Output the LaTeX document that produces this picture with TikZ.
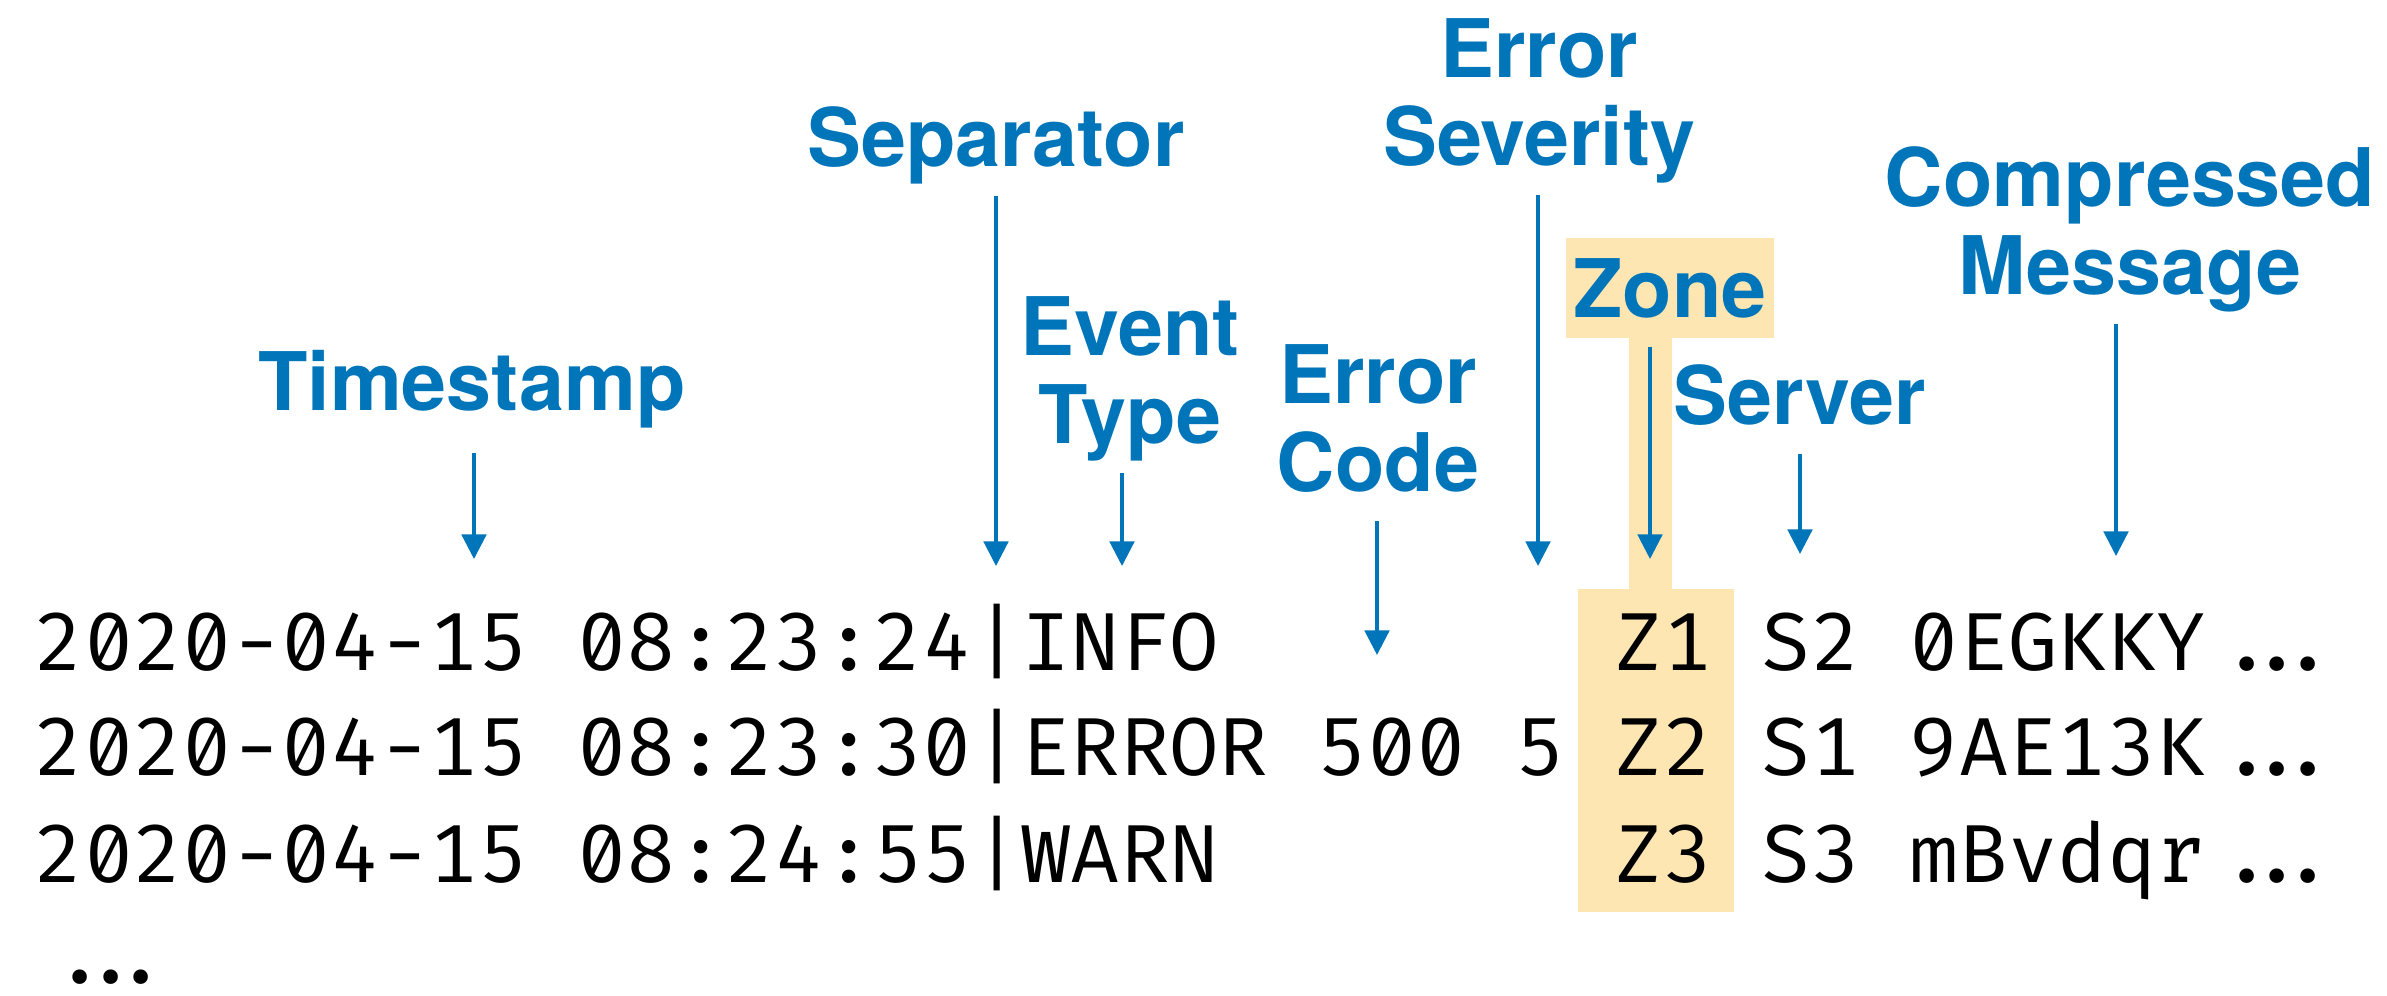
\documentclass[tikz,border=0pt]{standalone}
\usepackage{fontspec}
\setmainfont{TeX Gyre Heros}
\setmonofont{Fira Mono}[RawFeature=+zero]
\usepackage{tikz}
\usepackage{xcolor}
\usetikzlibrary{arrows.meta}
\definecolor{label-blue}{RGB}{0,117,186}
\definecolor{zone-yellow}{RGB}{253,230,178}
\newcommand{\logdots}{.\kern-0.23em.\kern-0.23em.}
\tikzset{
    field-label/.style = {text=label-blue, font=\fontsize{23}{25}\selectfont\bfseries, align=center, inner sep=0pt, text depth=0pt, anchor=south},
    field-arrow/.style = {draw=label-blue, line width=0.9pt, -{Triangle[width=7pt,length=7pt]}, shorten <=0.29cm},
    log-line/.style = {font=\fontsize{23.4}{25}\selectfont\ttfamily, inner sep=0pt, anchor=base west},
    zone-fill/.style = {fill=zone-yellow},
}

\begin{document}
\begin{tikzpicture}
\useasboundingbox (0,0) rectangle (23.87,9.95);

\fill[zone-fill] (16.29,6.57) rectangle (16.72,4.06);
\fill[zone-fill] (15.78,4.06) rectangle (17.34,0.83);

\node[field-label] (timestamp) at (4.72,5.84) {Timestamp};
\node[field-label] (separator) at (9.96,8.28) {Separator};
\node[field-label] (eventtype) at (11.30,5.51) {Event\\Type};
\node[field-label] (errorcode) at (13.78,5.03) {Error\\Code};
\node[field-label] (severity) at (15.39,8.29) {Error\\Severity};
\node[field-label, zone-fill, anchor=base, text height=0.79cm, text depth=0.21cm, inner xsep=0.077cm] (zone) at (16.70,6.78) {Zone};
\node[field-label] (server) at (18.00,5.70) {Server};
\node[field-label] (message) at (21.30,7.00) {Compressed\\Message};

\coordinate (timestamp-tip) at (4.74,4.36);
\coordinate (separator-tip) at (9.96,4.29);
\coordinate (eventtype-tip) at (11.22,4.29);
\coordinate (errorcode-tip) at (13.77,3.40);
\coordinate (severity-tip) at (15.38,4.29);
\coordinate (zone-tip) at (16.50,4.36);
\coordinate (server-tip) at (18.00,4.41);
\coordinate (message-tip) at (21.16,4.39);

\draw[field-arrow, shorten <=0.42cm] (timestamp.south -| timestamp-tip) -- (timestamp-tip);
\draw[field-arrow] (separator.south -| separator-tip) -- (separator-tip);
\draw[field-arrow] (eventtype.south -| eventtype-tip) -- (eventtype-tip);
\draw[field-arrow] (errorcode.south -| errorcode-tip) -- (errorcode-tip);
\draw[field-arrow] (severity.south -| severity-tip) -- (severity-tip);
\draw[field-arrow, shorten <=0.08cm] (zone.south -| zone-tip) -- (zone-tip);
\draw[field-arrow] (server.south -| server-tip) -- (server-tip);
\draw[field-arrow] (message.south -| message-tip) -- (message-tip);

\node[log-line] (row1) at (0.34,3.25) {2020-04-15 08:23:24|INFO~~~~~~~~Z1 S2 0EGKKY\kern0.2em\logdots};
\node[log-line] (row2) at (0.34,2.20) {2020-04-15 08:23:30|ERROR 500 5 Z2 S1 9AE13K\kern0.2em\logdots};
\node[log-line] (row3) at (0.34,1.13) {2020-04-15 08:24:55|WARN~~~~~~~~Z3 S3 mBvdqr\kern0.2em\logdots};
\node[log-line] (row4) at (0.55,0.12) {\logdots};
\end{tikzpicture}
\end{document}
